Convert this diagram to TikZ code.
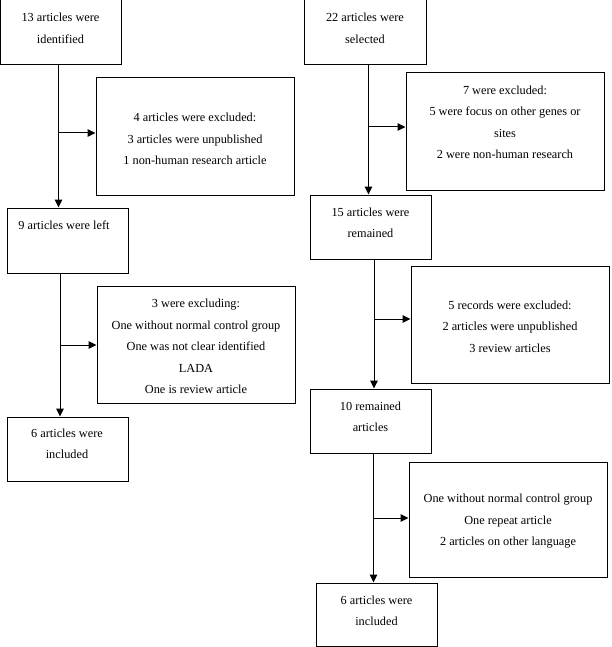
\documentclass[tikz,border=0pt]{standalone}
\usepackage{fontspec}
\setmainfont{Liberation Serif}
\usetikzlibrary{arrows.meta}

\begin{document}
\begin{tikzpicture}[x=1pt, y=-1pt,
    box/.style={draw, line width=1pt, inner sep=0pt},
    txt/.style={align=center, inner sep=0pt, font=\fontsize{12.3}{21.5}\selectfont},
    arr/.style={line width=1pt, -{Triangle[length=8pt, width=7.5pt]}}]
    \useasboundingbox (0,0) rectangle (611,647);

    % Left column
    \node[box, minimum width=121pt, minimum height=65pt] (A) at (60.5,32.5) {};
    \node[txt] (At) at (60.5,28.5) {13 articles were\\identified};

    \node[box, minimum width=198pt, minimum height=117pt] (B) at (195,136.5) {};
    \node[txt] (Bt) at (195,139) {4 articles were excluded:\\3 articles were unpublished\\1 non-human research article};

    \node[box, minimum width=121pt, minimum height=65pt] (C) at (67.5,240.5) {};
    \node[txt] (Ct) at (64,225) {9 articles were left};

    \node[box, minimum width=198pt, minimum height=117pt] (D) at (196,344.5) {};
    \node[txt] (Dt) at (196,346.5) {3 were excluding:\\One without normal control group\\One was not clear identified\\LADA\\One is review article};

    \node[box, minimum width=121pt, minimum height=64pt] (E) at (67.5,449) {};
    \node[txt] (Et) at (67,444) {6 articles were\\included};

    \coordinate (l1) at (58.5,133);
    \coordinate (l2) at (60,345);
    \draw[arr] (A.south -| l1) -- (C.north -| l1);
    \draw[arr] (l1) -- (l1 -| B.west);
    \draw[arr] (C.south -| l2) -- (E.north -| l2);
    \draw[arr] (l2) -- (l2 -| D.west);

    % Right column
    \node[box, minimum width=122pt, minimum height=65pt] (F) at (365,32.5) {};
    \node[txt] (Ft) at (365,28.5) {22 articles were\\selected};

    \node[box, minimum width=198pt, minimum height=117pt] (G) at (505,131.5) {};
    \node[txt] (Gt) at (505,122.5) {7 were excluded:\\5 were focus on other genes or\\sites\\2 were non-human research};

    \node[box, minimum width=121pt, minimum height=64pt] (H) at (370.5,227) {};
    \node[txt] (Ht) at (370.5,223) {15 articles were\\remained};

    \node[box, minimum width=198pt, minimum height=117pt] (I) at (510,324.5) {};
    \node[txt] (It) at (510,326.5) {5 records were excluded:\\2 articles were unpublished\\3 review articles};

    \node[box, minimum width=121pt, minimum height=64pt] (J) at (370.5,421) {};
    \node[txt] (Jt) at (370.5,417) {10 remained\\articles};

    \node[box, minimum width=198pt, minimum height=115pt] (K) at (508,519.5) {};
    \node[txt] (Kt) at (508,521.5) {One without normal control group\\One repeat article\\2 articles on other language};

    \node[box, minimum width=121pt, minimum height=63pt] (L) at (376.5,614.5) {};
    \node[txt] (Lt) at (376.5,611) {6 articles were\\included};

    \coordinate (r1) at (368.5,127);
    \coordinate (r2) at (374,319);
    \coordinate (r3) at (373.5,518);
    \draw[arr] (F.south -| r1) -- (H.north -| r1);
    \draw[arr] (r1) -- (r1 -| G.west);
    \draw[arr] (H.south -| r2) -- (J.north -| r2);
    \draw[arr] (r2) -- (r2 -| I.west);
    \draw[arr] (J.south -| r3) -- (L.north -| r3);
    \draw[arr] (r3) -- (r3 -| K.west);
\end{tikzpicture}
\end{document}
